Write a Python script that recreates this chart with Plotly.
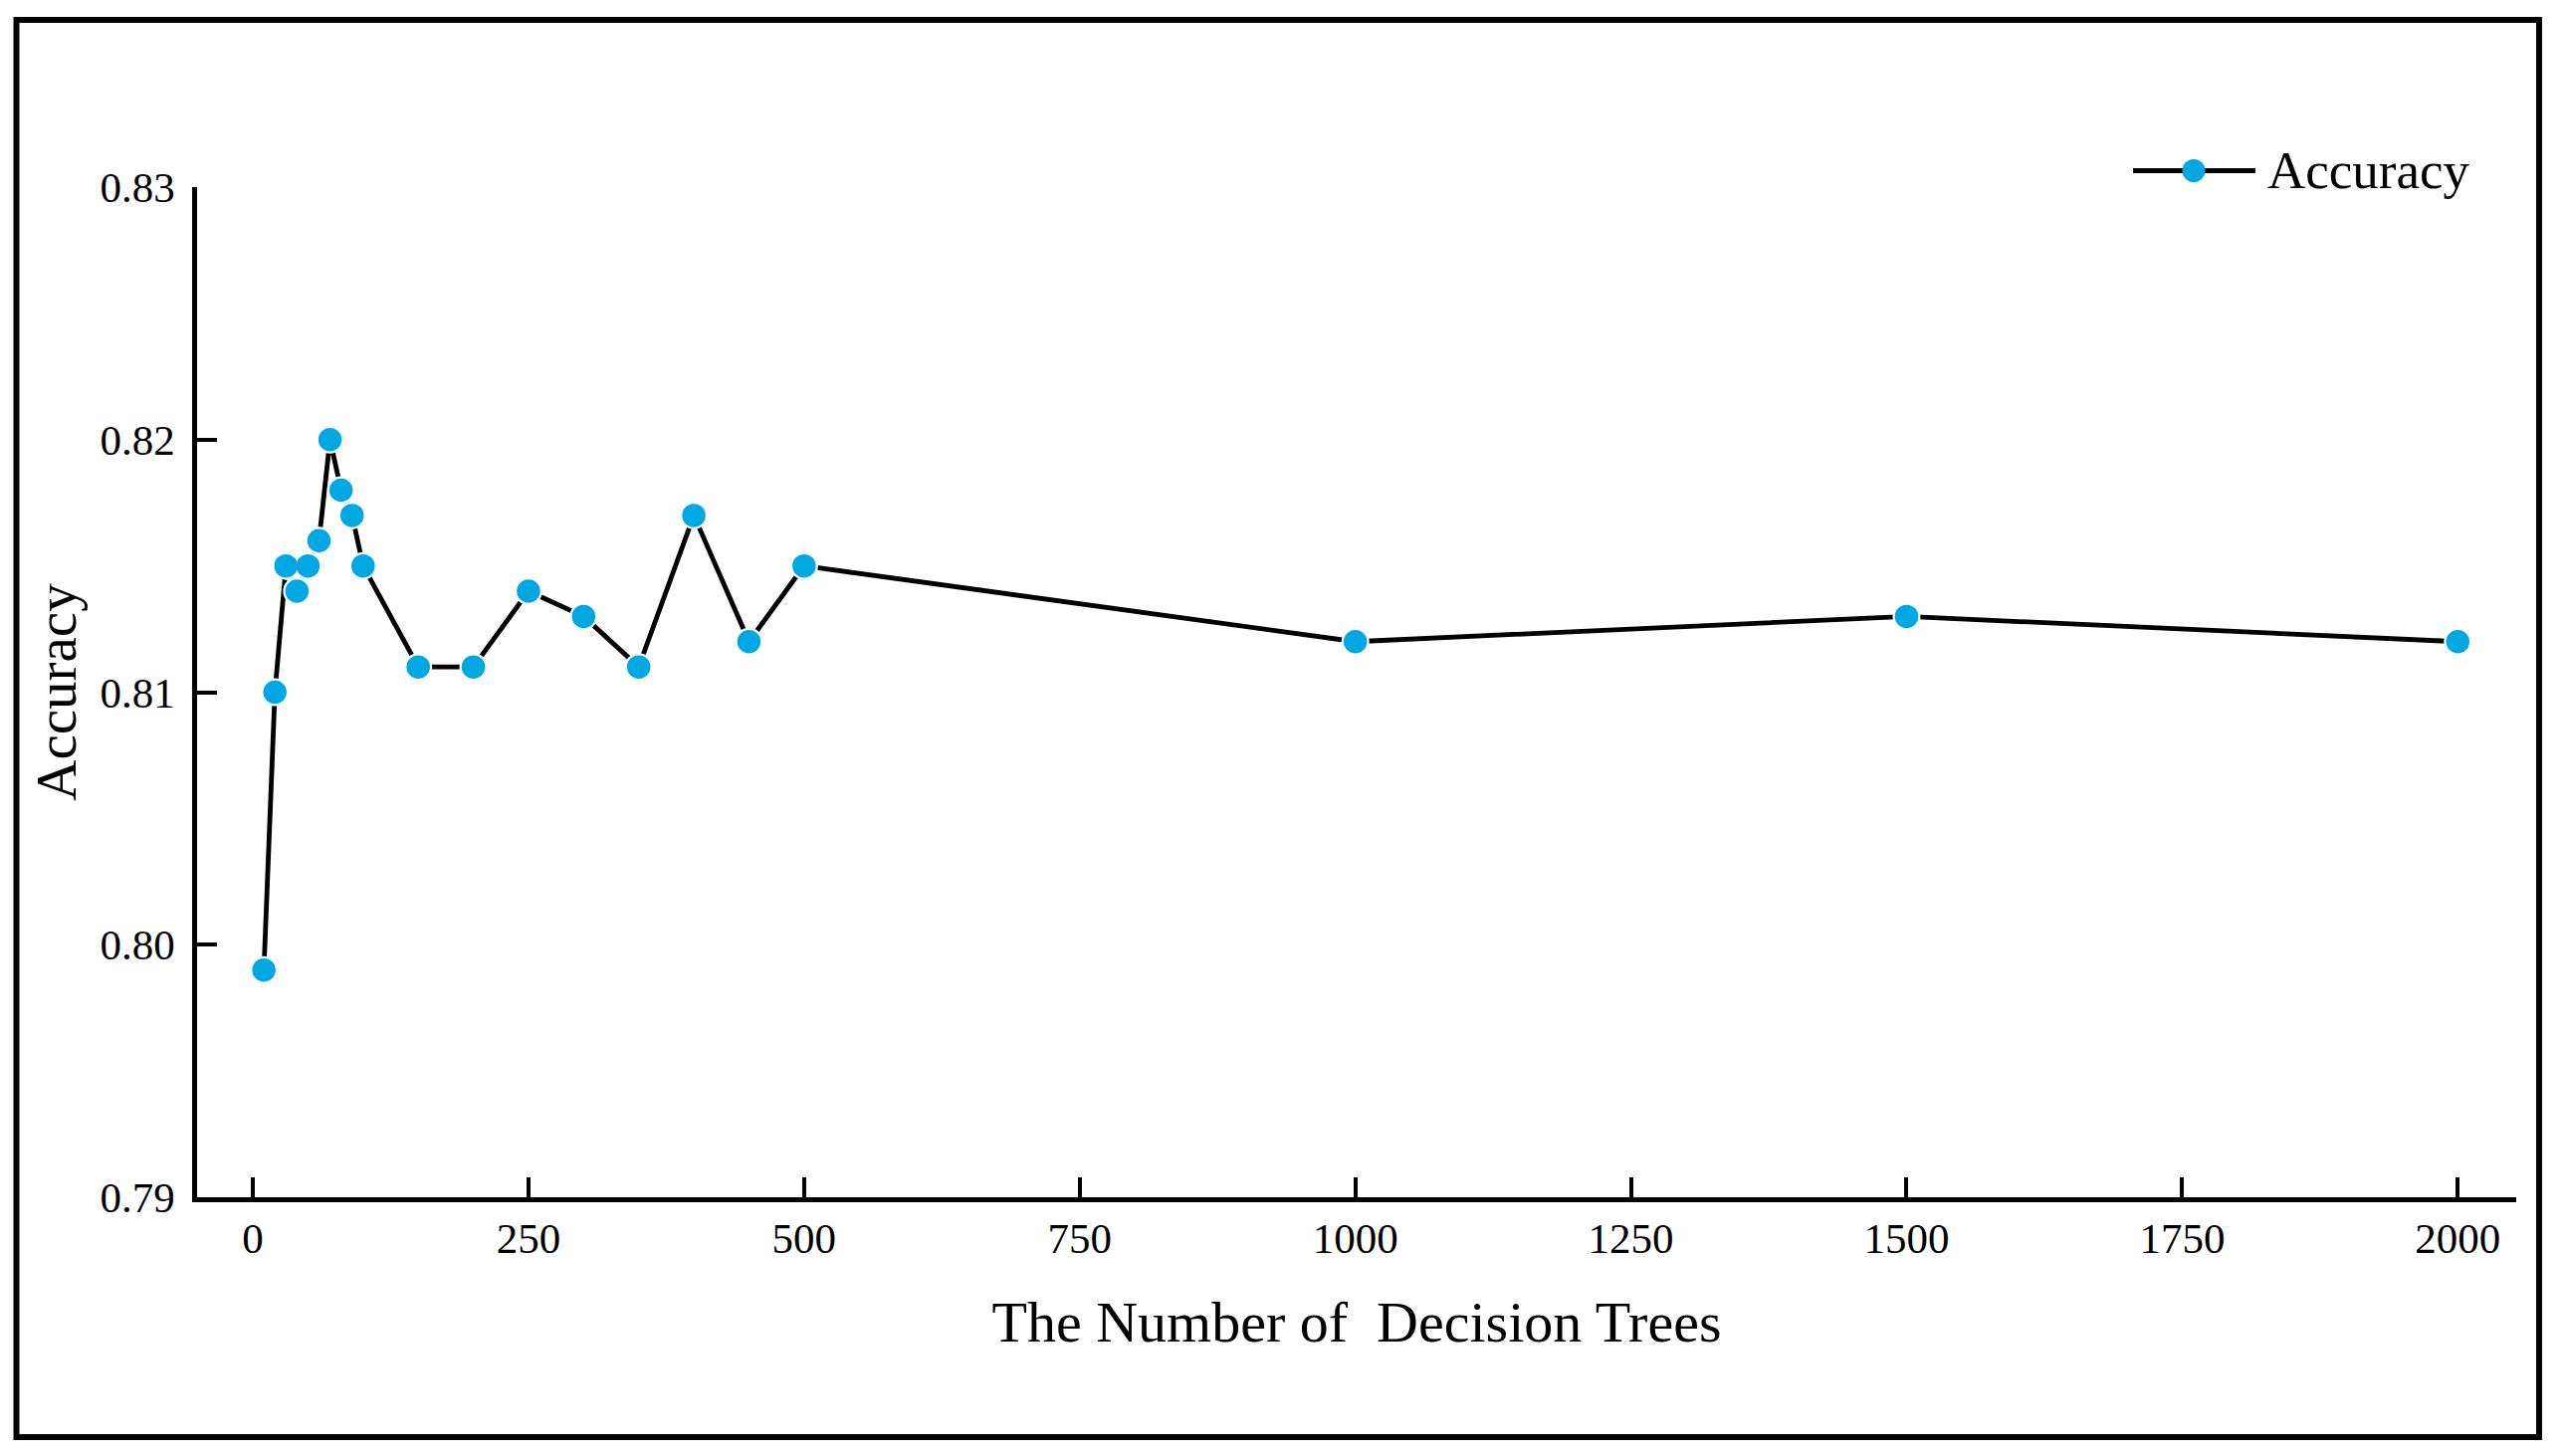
import plotly.graph_objects as go

# ---- data ----
n_trees = [10, 20, 30, 40, 50, 60, 70, 80, 90, 100, 150, 200, 250, 300, 350,
           400, 450, 500, 1000, 1500, 2000]
accuracy = [0.799, 0.810, 0.815, 0.814, 0.815, 0.816, 0.820, 0.818, 0.817, 0.815,
            0.811, 0.811, 0.814, 0.813, 0.811, 0.817, 0.812, 0.815, 0.812, 0.813, 0.812]
x_ticks = [0, 250, 500, 750, 1000, 1250, 1500, 1750, 2000]
y_ticks = [0.79, 0.80, 0.81, 0.82, 0.83]
y_tick_labels = ["0.79", "0.80", "0.81", "0.82", "0.83"]
series_name = "Accuracy"
x_title = "The Number of  Decision Trees"
y_title = "Accuracy"

FONT = "Liberation Serif"
BLUE = "#00A8E3"

fig = go.Figure()
# line with white masks that create a small gap around each symbol
fig.add_trace(go.Scatter(
    x=n_trees, y=accuracy, mode="lines+markers", showlegend=False,
    line=dict(color="black", width=4.8),
    marker=dict(color="white", size=28, line=dict(width=0)),
    hoverinfo="skip"))
# blue symbols
fig.add_trace(go.Scatter(
    x=n_trees, y=accuracy, mode="markers", name=series_name, showlegend=False,
    marker=dict(color=BLUE, size=23.5, line=dict(width=0))))

OFF = 8  # page body margin
W, H = 2576 - 2 * OFF, 1463 - 2 * OFF
# plot area in page pixels: x 198..2528, y 188..1203
L = 198 - OFF
T = 188 - OFF
R = W - (2528 - OFF)
B = H - (1203 - OFF)
pw, ph = W - L - R, H - T - B

def px(xp):
    return (xp - OFF - L) / pw

def py(yp):
    return (H - B - (yp - OFF)) / ph

shapes = [
    # outer frame
    dict(type="rect", xref="paper", yref="paper",
         x0=px(16.5), x1=px(2551), y0=py(1444), y1=py(20),
         line=dict(color="black", width=6), fillcolor="rgba(0,0,0,0)", layer="below"),
    # legend line sample
    dict(type="line", xref="paper", yref="paper",
         x0=px(2143), x1=px(2266), y0=py(171.5), y1=py(171.5),
         line=dict(color="black", width=4.8)),
    # legend symbol
    dict(type="circle", xref="paper", yref="paper",
         xsizemode="pixel", ysizemode="pixel",
         xanchor=px(2204), yanchor=py(171.5),
         x0=-11.5, x1=11.5, y0=-11.5, y1=11.5,
         fillcolor=BLUE, line=dict(width=0)),
]

annotations = [
    dict(text=series_name, xref="paper", yref="paper",
         x=px(2276), y=py(171.5), xanchor="left", yanchor="middle",
         showarrow=False, font=dict(family=FONT, size=53, color="black")),
]

fig.update_layout(
    width=W, height=H,
    margin=dict(l=L, r=R, t=T, b=B, pad=0),
    paper_bgcolor="white", plot_bgcolor="white",
    font=dict(family=FONT, color="black"),
    shapes=shapes, annotations=annotations,
    showlegend=False,
)
fig.update_xaxes(
    range=[-50.6, 2053], tickmode="array", tickvals=x_ticks,
    showline=True, linecolor="black", linewidth=4.5, mirror=False,
    ticks="inside", ticklen=20, tickwidth=4, tickcolor="black",
    tickfont=dict(family=FONT, size=43, color="black"),
    ticklabelstandoff=0,
    showgrid=False, zeroline=False,
    title=dict(text=x_title, font=dict(family=FONT, size=58, color="black"), standoff=42),
)
fig.update_yaxes(
    range=[0.79, 0.83], tickmode="array", tickvals=y_ticks, ticktext=y_tick_labels,
    showline=True, linecolor="black", linewidth=4.5, mirror=False,
    ticks="inside", ticklen=20, tickwidth=4, tickcolor="black",
    tickfont=dict(family=FONT, size=43, color="black"),
    ticklabelstandoff=9,
    showgrid=False, zeroline=False,
    title=dict(text=y_title, font=dict(family=FONT, size=57, color="black"), standoff=7),
)

fig.write_html("out.html")
